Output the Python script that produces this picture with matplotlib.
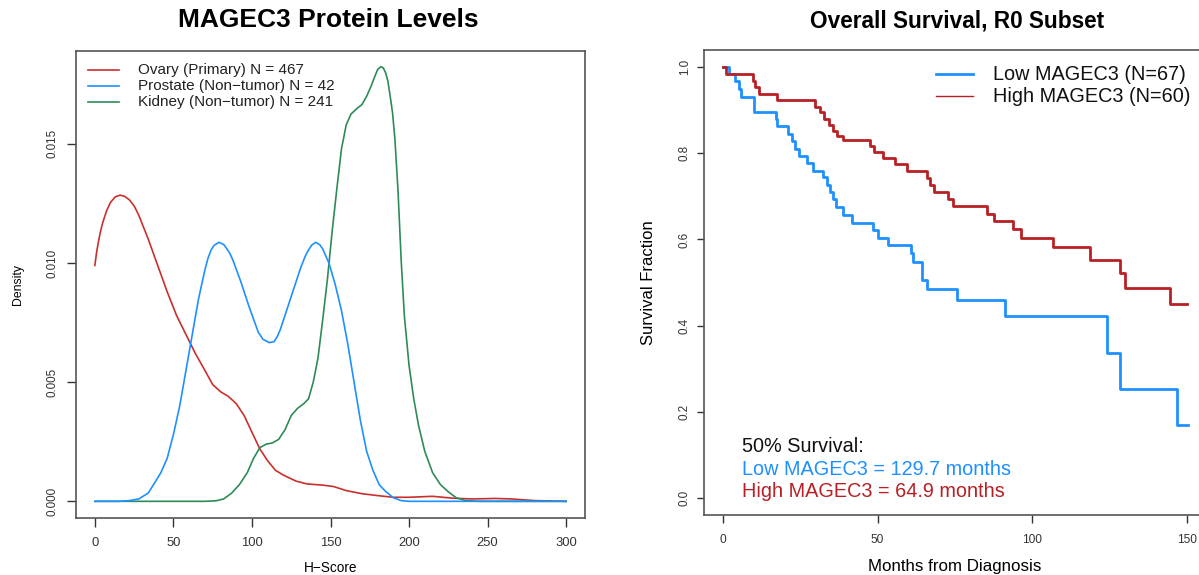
import matplotlib
matplotlib.use("Agg")
import matplotlib.pyplot as plt

plt.rcParams['font.family'] = ['Liberation Sans', 'DejaVu Sans']

# ---- left panel: density of H-Score ----
ovary_h = [0, 1, 2, 3.5, 5, 7.5, 10, 13, 16, 19, 22, 25, 28, 34, 40, 46, 52, 58, 64,
           70, 75, 80, 85, 90, 95, 100, 105, 110, 115, 120, 128, 135, 145, 152, 160,
           170, 180, 190, 200, 215, 228, 240, 255, 265, 280, 300]
ovary_d = [0.0099, 0.0104, 0.0108, 0.0113, 0.0117, 0.0122, 0.01255, 0.01278, 0.01285,
           0.01280, 0.01265, 0.01240, 0.0120, 0.0110, 0.0099, 0.0088, 0.0078, 0.0070,
           0.0062, 0.0055, 0.0049, 0.0046, 0.0044, 0.0041, 0.0036, 0.0029, 0.0022,
           0.0017, 0.0013, 0.0011, 0.00085, 0.00073, 0.00068, 0.00062, 0.00045,
           0.00032, 0.00024, 0.00017, 0.00017, 0.00021, 0.00013, 0.00010, 0.00012,
           0.00010, 0.00003, 0.0]

prostate_h = [0, 15, 22, 28, 34, 38, 42, 46, 50, 54, 58, 62, 66, 70, 72, 74, 76, 79,
              82, 84, 86, 88, 93, 98, 104, 107, 111, 114, 116, 118, 121, 126, 131,
              134, 136, 138, 140.5, 143, 145, 147, 149, 153, 157, 161, 165, 169, 173,
              177, 181, 185, 190, 195, 200, 300]
prostate_d = [0.0, 0.0, 0.00003, 0.0001, 0.00035, 0.00077, 0.0012, 0.0018, 0.0028,
              0.0040, 0.0055, 0.0070, 0.0085, 0.0097, 0.0102, 0.01055, 0.01075,
              0.01087, 0.01078, 0.0106, 0.0104, 0.0101, 0.0092, 0.0082, 0.0071,
              0.0068, 0.00666, 0.0067, 0.0069, 0.0072, 0.0078, 0.0088, 0.0098,
              0.0103, 0.01055, 0.01075, 0.01087, 0.01078, 0.0106, 0.0103, 0.0100,
              0.0091, 0.0080, 0.0066, 0.0050, 0.0034, 0.0021, 0.0013, 0.0007,
              0.00042, 0.00015, 0.00003, 0.0, 0.0]

kidney_h = [0, 70, 77, 82, 87, 92, 97, 101, 105, 109, 113, 117, 121, 125, 129, 133,
            136, 139, 142, 145, 148, 151, 154, 157, 160, 163, 167, 170, 173, 176, 178,
            180, 182, 183.5, 185, 186.5, 188, 189.5, 191, 193, 195, 197, 200, 203,
            206, 210, 215, 220, 225, 230, 236, 245, 300]
kidney_d = [0.0, 0.0, 0.00002, 0.0001, 0.00034, 0.0007, 0.0012, 0.0018, 0.00225,
            0.0024, 0.00245, 0.0026, 0.0030, 0.0036, 0.0039, 0.0041, 0.0043, 0.0050,
            0.0060, 0.0076, 0.0093, 0.0113, 0.0131, 0.0148, 0.0158, 0.01625, 0.0165,
            0.01665, 0.0170, 0.01745, 0.0178, 0.01812, 0.01824, 0.0182, 0.0180,
            0.01765, 0.0170, 0.0163, 0.0152, 0.0130, 0.0101, 0.0078, 0.0057, 0.0043,
            0.0032, 0.0021, 0.0012, 0.0007, 0.0004, 0.00015, 0.00003, 0.0, 0.0]

density_labels = ['Ovary (Primary) N = 467', 'Prostate (Non\u2212tumor) N = 42',
                  'Kidney (Non\u2212tumor) N = 241']

# ---- right panel: Kaplan-Meier ----
low_t = [0, 2.2, 4.0, 5.4, 5.8, 10.1, 17.1, 17.6, 21.2, 22.4, 23.3, 24.7, 27.1, 29.3,
         32.5, 33.8, 34.8, 35.6, 36.6, 38.9, 41.6, 48.6, 50.2, 53.5, 60.7, 61.6, 64.5,
         65.8, 75.5, 91.1, 124.1, 128.4, 146.7, 150.2]
low_s = [1.0, 0.985, 0.967, 0.950, 0.931, 0.896, 0.880, 0.864, 0.845, 0.828, 0.810,
         0.794, 0.778, 0.760, 0.744, 0.727, 0.710, 0.694, 0.675, 0.657, 0.639, 0.621,
         0.604, 0.588, 0.568, 0.547, 0.506, 0.484, 0.460, 0.422, 0.337, 0.253, 0.168,
         0.168]

high_t = [0, 1.0, 9.7, 10.5, 11.8, 17.4, 29.8, 31.5, 32.8, 34.3, 35.6, 37.0, 38.8,
          47.5, 48.7, 51.8, 55.6, 59.4, 65.8, 67.0, 68.2, 72.8, 74.2, 85.2, 87.6, 93.6,
          96.2, 106.7, 118.5, 128.2, 129.8, 144.3, 149.9]
high_s = [1.0, 0.984, 0.969, 0.954, 0.939, 0.923, 0.907, 0.895, 0.880, 0.865, 0.852,
          0.841, 0.831, 0.816, 0.803, 0.789, 0.775, 0.760, 0.743, 0.727, 0.711, 0.694,
          0.678, 0.660, 0.643, 0.624, 0.604, 0.583, 0.552, 0.521, 0.488, 0.451, 0.451]

km_labels = ['Low MAGEC3 (N=67)', 'High MAGEC3 (N=60)']
median_lines = ['50% Survival:', 'Low MAGEC3 = 129.7 months', 'High MAGEC3 = 64.9 months']

RED = '#C9302C'
BLUE = '#1E90FF'
GREEN = '#2E8B57'
KM_RED = '#B82025'
FRAME = '#555555'

fig = plt.figure(figsize=(11.99, 5.75), dpi=100)

def style_axes(ax, ticklen):
    for s in ax.spines.values():
        s.set_color(FRAME)
        s.set_linewidth(1.2)
    ax.tick_params(colors='#333333', length=ticklen, width=1.0, direction='out')
    for t in ax.get_yticklabels():
        t.set_rotation(90)
        t.set_va('center')

# left
ax1 = fig.add_axes([0.0634, 0.0983, 0.4245, 0.813])
ax1.plot(ovary_h, ovary_d, color=RED, lw=1.2)
ax1.plot(kidney_h, kidney_d, color=GREEN, lw=1.2)
ax1.plot(prostate_h, prostate_d, color=BLUE, lw=1.2)
ax1.set_xlim(-12, 312)
ax1.set_ylim(-0.00072, 0.0189)
ax1.set_xticks([0, 50, 100, 150, 200, 250, 300])
ax1.set_yticks([0, 0.005, 0.010, 0.015])
ax1.set_yticklabels(['0.000', '0.005', '0.010', '0.015'])
ax1.tick_params(axis='x', labelsize=9.4, pad=6.5)
ax1.tick_params(axis='y', labelsize=8.4, pad=6)
style_axes(ax1, 6.5)
ax1.set_ylabel('Density', fontsize=8.8, va='center')
ax1.yaxis.set_label_coords(-0.1134, 0.5)
ax1.set_xlabel('H\u2212Score', fontsize=9.8, va='center')
ax1.xaxis.set_label_coords(0.5, -0.105)

# legend drawn by hand to match spacing
leg_cols = [RED, BLUE, GREEN]
leg_y = [0.9594, 0.9251, 0.8915]
for c, y, lab in zip(leg_cols, leg_y, density_labels):
    ax1.plot([0.0236, 0.0845], [y, y], color=c, lw=1.2, transform=ax1.transAxes)
    ax1.text(0.1213, y, lab, transform=ax1.transAxes, fontsize=11, va='center',
             color='#222222')

fig.text(0.2736, 0.9647, 'MAGEC3 Protein Levels', ha='center', va='center',
         fontsize=19, fontweight='bold')

# right
ax2 = fig.add_axes([0.5872, 0.1043, 0.4186, 0.8087])
ax2.plot(low_t, low_s, drawstyle='steps-post', color=BLUE, lw=2.0)
ax2.plot(high_t, high_s, drawstyle='steps-post', color=KM_RED, lw=2.0)
ax2.set_xlim(-6, 156)
ax2.set_ylim(-0.04, 1.04)
ax2.set_xticks([0, 50, 100, 150])
ax2.set_yticks([0.0, 0.2, 0.4, 0.6, 0.8, 1.0])
ax2.set_yticklabels(['0.0', '0.2', '0.4', '0.6', '0.8', '1.0'])
ax2.tick_params(axis='x', labelsize=8.6, pad=8)
ax2.tick_params(axis='y', labelsize=8.4, pad=4)
style_axes(ax2, 5.4)
ax2.set_ylabel('Survival Fraction', fontsize=12, va='center')
ax2.yaxis.set_label_coords(-0.111, 0.5)
ax2.set_xlabel('Months from Diagnosis', fontsize=12.2, va='center')
ax2.xaxis.set_label_coords(0.5, -0.11)

for c, lw, y, lab in zip([BLUE, KM_RED], [2.0, 1.0], [0.9484, 0.9011], km_labels):
    ax2.plot([0.4622, 0.5359], [y, y], color=c, lw=lw, transform=ax2.transAxes)
    ax2.text(0.5751, y, lab, transform=ax2.transAxes, fontsize=14.3, va='center',
             color='#111111')

for c, y, line in zip(['#111111', BLUE, KM_RED], [0.1469, 0.0989, 0.0501], median_lines):
    ax2.text(0.0751, y, line, transform=ax2.transAxes, fontsize=14.3, va='center',
             color=c)

fig.text(0.7982, 0.964, 'Overall Survival, R0 Subset', ha='center', va='center',
         fontsize=16.3, fontweight='bold')

fig.savefig('out.png', dpi=100)
